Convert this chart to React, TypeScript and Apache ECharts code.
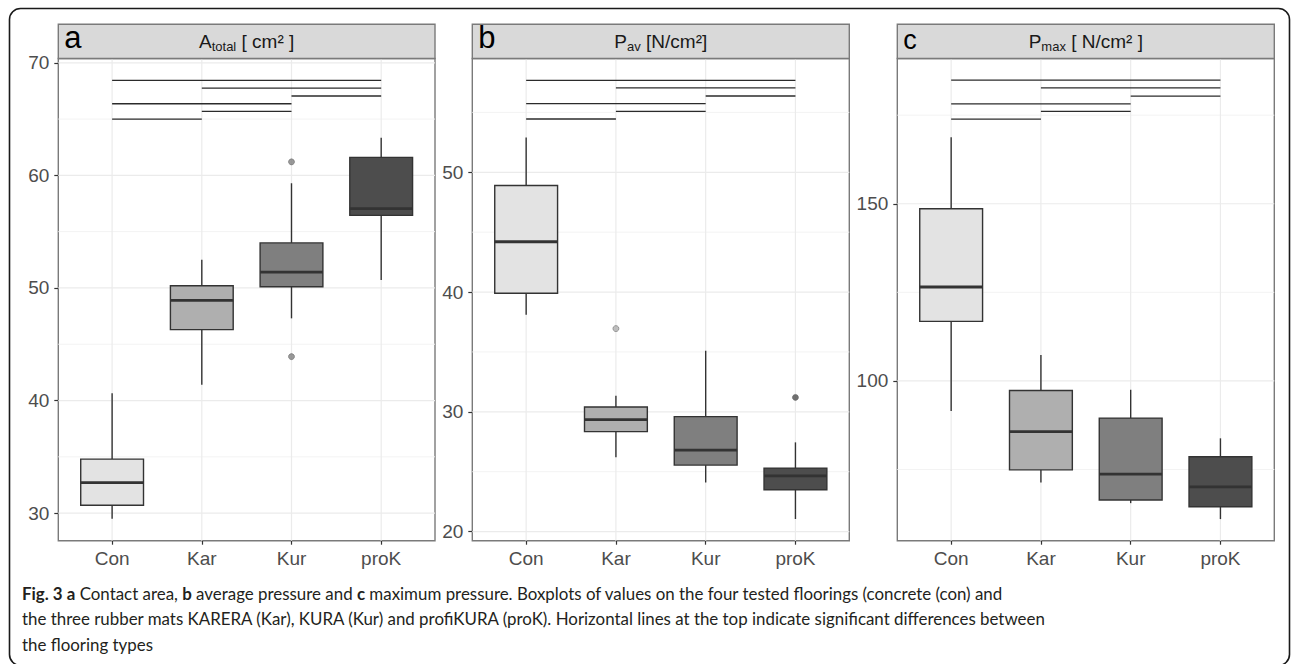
import React, { useEffect, useRef } from "react";
import * as echarts from "echarts";

// ---------- data ----------
const categories = ["Con", "Kar", "Kur", "proK"];
const fills = ["#E3E3E3", "#AFAFAF", "#7F7F7F", "#4D4D4D"];

// box stats: [low, q1, median, q3, high]
const areaBoxes = [
  [29.5, 30.7, 32.7, 34.8, 40.65],
  [41.4, 46.3, 48.9, 50.2, 52.5],
  [47.3, 50.1, 51.4, 54.0, 59.3],
  [50.7, 56.45, 57.05, 61.6, 63.35],
];
const areaOutliers = [
  [3, 61.2],
  [3, 43.9],
];
const pavBoxes = [
  [38.1, 39.9, 44.2, 48.9, 52.9],
  [26.2, 28.35, 29.35, 30.4, 31.35],
  [24.1, 25.55, 26.8, 29.6, 35.1],
  [21.05, 23.5, 24.65, 25.3, 27.45],
];
const pavOutliers = [
  [2, 36.95],
  [4, 31.2],
];
const pmaxBoxes = [
  [91.5, 116.8, 126.5, 148.6, 168.8],
  [71.3, 74.9, 85.7, 97.3, 107.3],
  [65.5, 66.4, 73.7, 89.5, 97.5],
  [61.0, 64.5, 70.1, 78.6, 83.8],
];
const pmaxOutliers: number[][] = [];

// significance lines: [fromCategory, toCategory, y]
const areaSig = [
  [1, 4, 68.44],
  [2, 4, 67.75],
  [3, 4, 67.05],
  [1, 3, 66.36],
  [2, 3, 65.69],
  [1, 2, 65.0],
];
const pavSig = [
  [1, 4, 57.68],
  [2, 4, 57.04],
  [3, 4, 56.37],
  [1, 3, 55.73],
  [2, 3, 55.09],
  [1, 2, 54.45],
];
const pmaxSig = [
  [1, 4, 184.9],
  [2, 4, 182.7],
  [3, 4, 180.4],
  [1, 3, 178.2],
  [2, 3, 176.1],
  [1, 2, 173.9],
];

const areaTicks = [30, 40, 50, 60, 70];
const areaMinor = [35, 45, 55, 65];
const pavTicks = [20, 30, 40, 50];
const pavMinor = [25, 35, 45, 55];
const pmaxTicks = [100, 150];
const pmaxMinor = [75, 125, 175];

const areaRange = [27.55, 70.38];
const pavRange = [19.24, 59.5];
const pmaxRange = [54.9, 191.0];

const captionLines = [
  "{b|Fig. 3 a} Contact area, {b|b} average pressure and {b|c} maximum pressure. Boxplots of values on the four tested floorings (concrete (con) and",
  "the three rubber mats KARERA (Kar), KURA (Kur) and profiKURA (proK). Horizontal lines at the top indicate significant differences between",
  "the flooring types",
];

// ---------- layout ----------
const PLOT_TOP = 58.5;
const PLOT_H = 482.2;
const PANELS = [
  { left: 58.3, width: 376.7, letter: "a", letterSize: 31, title: "A{s|total} [ cm² ]", boxes: areaBoxes, outliers: areaOutliers, sig: areaSig, ticks: areaTicks, minor: areaMinor, range: areaRange },
  { left: 472.3, width: 377, letter: "b", letterSize: 31, title: "P{s|av} [N/cm²]", boxes: pavBoxes, outliers: pavOutliers, sig: pavSig, ticks: pavTicks, minor: pavMinor, range: pavRange },
  { left: 897.3, width: 377, letter: "c", letterSize: 27, title: "P{s|max} [ N/cm² ]", boxes: pmaxBoxes, outliers: pmaxOutliers, sig: pmaxSig, ticks: pmaxTicks, minor: pmaxMinor, range: pmaxRange },
];

const FONT = "Liberation Sans, Arial, sans-serif";
const CAP_FONT = "Lato, sans-serif";
const CAP_SIZE = 16.9;
const BOX_W = 0.7;

export default function App() {
  const ref = useRef<HTMLDivElement>(null);
  useEffect(() => {
    if (!ref.current) return;
    const chart = echarts.init(ref.current, undefined, { renderer: "svg" });

    const grids: any[] = [];
    const xAxes: any[] = [];
    const yAxes: any[] = [];
    const series: any[] = [];
    const graphics: any[] = [];

    PANELS.forEach((p, i) => {
      grids.push({
        left: p.left,
        top: PLOT_TOP,
        width: p.width,
        height: PLOT_H,
        show: true,
        borderColor: "#7a7a7a",
        borderWidth: 1.4,
        backgroundColor: "#ffffff",
        containLabel: false,
      });
      xAxes.push({
        type: "value",
        gridIndex: i,
        min: 0.4,
        max: 4.6,
        splitLine: { show: false },
        axisLine: { show: false },
        axisTick: { show: true, customValues: [1, 2, 3, 4], length: 4, lineStyle: { color: "#333333", width: 1.2 } },
        axisLabel: {
          customValues: [1, 2, 3, 4],
          formatter: (v: number) => categories[Math.round(v) - 1] ?? "",
          color: "#4D4D4D",
          fontSize: 19,
          fontFamily: FONT,
          margin: 8,
        },
      });
      yAxes.push({
        type: "value",
        gridIndex: i,
        min: p.range[0],
        max: p.range[1],
        splitLine: { show: false },
        axisLine: { show: false },
        axisTick: { show: true, customValues: p.ticks, length: 4, lineStyle: { color: "#333333", width: 1.2 } },
        axisLabel: {
          customValues: p.ticks,
          color: "#4D4D4D",
          fontSize: 19,
          fontFamily: FONT,
          margin: 9,
        },
      });

      // grid lines (major + minor horizontal, vertical at categories)
      const gridData: any[] = [
        ...p.minor.map((v) => [0, v, 0]),
        ...p.ticks.map((v) => [0, v, 1]),
        ...[1, 2, 3, 4].map((c) => [c, 0, 2]),
      ];
      series.push({
        type: "custom",
        xAxisIndex: i,
        yAxisIndex: i,
        silent: true,
        z: 1,
        clip: false,
        data: gridData,
        renderItem: (params: any, api: any) => {
          const cs = params.coordSys;
          const kind = api.value(2);
          if (kind === 2) {
            const x = api.coord([api.value(0), p.range[0]])[0];
            return {
              type: "line",
              shape: { x1: x, y1: cs.y, x2: x, y2: cs.y + cs.height },
              style: { stroke: "#EBEBEB", lineWidth: 1.2 },
            };
          }
          const y = api.coord([1, api.value(1)])[1];
          return {
            type: "line",
            shape: { x1: cs.x, y1: y, x2: cs.x + cs.width, y2: y },
            style: { stroke: kind === 1 ? "#EBEBEB" : "#F3F3F3", lineWidth: kind === 1 ? 1.2 : 1 },
          };
        },
      });

      // significance lines
      series.push({
        type: "custom",
        xAxisIndex: i,
        yAxisIndex: i,
        silent: true,
        z: 3,
        data: p.sig,
        renderItem: (params: any, api: any) => {
          const a = api.coord([api.value(0), api.value(2)]);
          const b = api.coord([api.value(1), api.value(2)]);
          return {
            type: "line",
            shape: { x1: a[0], y1: a[1], x2: b[0], y2: b[1] },
            style: { stroke: "#2b2b2b", lineWidth: 1.3 },
          };
        },
      });

      // boxes
      series.push({
        type: "custom",
        xAxisIndex: i,
        yAxisIndex: i,
        silent: true,
        z: 4,
        data: p.boxes.map((b, k) => [k + 1, ...b]),
        renderItem: (params: any, api: any) => {
          const x = api.value(0);
          const low = api.coord([x, api.value(1)]);
          const q1 = api.coord([x, api.value(2)]);
          const med = api.coord([x, api.value(3)]);
          const q3 = api.coord([x, api.value(4)]);
          const high = api.coord([x, api.value(5)]);
          const hw = api.size([BOX_W, 0])[0] / 2;
          const cx = low[0];
          const fill = fills[params.dataIndex];
          const stroke = "#333333";
          return {
            type: "group",
            children: [
              { type: "line", shape: { x1: cx, y1: q3[1], x2: cx, y2: high[1] }, style: { stroke, lineWidth: 1.4 } },
              { type: "line", shape: { x1: cx, y1: q1[1], x2: cx, y2: low[1] }, style: { stroke, lineWidth: 1.4 } },
              {
                type: "rect",
                shape: { x: cx - hw, y: q3[1], width: hw * 2, height: q1[1] - q3[1] },
                style: { fill, stroke, lineWidth: 1.4, opacity: 1 },
              },
              { type: "line", shape: { x1: cx - hw, y1: med[1], x2: cx + hw, y2: med[1] }, style: { stroke, lineWidth: 2.8 } },
            ],
          };
        },
      });

      // outliers
      series.push({
        type: "scatter",
        xAxisIndex: i,
        yAxisIndex: i,
        silent: true,
        z: 5,
        symbol: "circle",
        symbolSize: 6,
        data: p.outliers.map((o) => ({
          value: [o[0], o[1]],
          itemStyle: { color: fills[o[0] - 1], borderColor: "#555555", borderWidth: 0.6 },
        })),
      });

      // strip
      graphics.push({
        type: "rect",
        shape: { x: p.left, y: 24.3, width: p.width, height: PLOT_TOP - 24.3 },
        style: { fill: "#D9D9D9", stroke: "#7a7a7a", lineWidth: 1.4 },
        z: 10,
      });
      graphics.push({
        type: "text",
        x: p.left + p.width / 2,
        y: 41.5,
        z: 11,
        style: {
          text: p.title,
          fill: "#1A1A1A",
          fontSize: 19,
          fontFamily: FONT,
          align: "center",
          verticalAlign: "middle",
          rich: {
            s: { fontSize: 13, fontFamily: FONT, fill: "#1A1A1A", padding: [9, 0, 0, 0] },
          },
        },
      });
      graphics.push({
        type: "text",
        x: p.left + 6,
        y: 53,
        z: 11,
        style: {
          text: p.letter,
          fill: "#000000",
          fontSize: p.letterSize,
          fontFamily: FONT,
          align: "left",
          verticalAlign: "bottom",
        },
      });
    });

    // outer frame
    graphics.push({
      type: "rect",
      shape: { x: 9.5, y: 8.5, width: 1280, height: 657, r: 11 },
      style: { fill: "none", stroke: "#1a1a1a", lineWidth: 1.6 },
      z: 0,
    });

    // caption
    captionLines.forEach((t, k) => {
      graphics.push({
        type: "text",
        x: 22,
        y: 593 + k * 25.7,
        z: 11,
        style: {
          text: t,
          fill: "#231F20",
          fontSize: CAP_SIZE,
          fontFamily: CAP_FONT,
          align: "left",
          verticalAlign: "middle",
          rich: {
            b: { fontSize: CAP_SIZE, fontFamily: CAP_FONT, fontWeight: "bold", fill: "#231F20" },
          },
        },
      });
    });

    chart.setOption({
      animation: false,
      backgroundColor: "#ffffff",
      grid: grids,
      xAxis: xAxes,
      yAxis: yAxes,
      series,
      graphic: { elements: graphics },
    });
    return () => chart.dispose();
  }, []);

  return (
    <div
      ref={ref}
      style={{ position: "absolute", left: 0, top: 0, width: 1292, height: 664 }}
    />
  );
}
